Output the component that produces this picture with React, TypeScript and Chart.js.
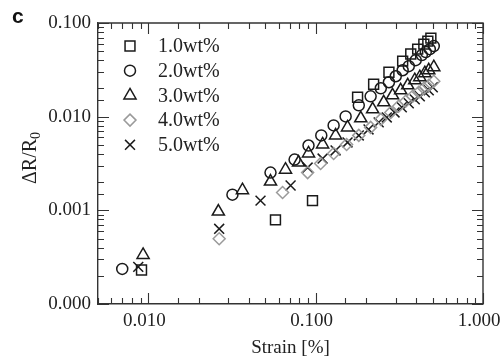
import React, { useEffect, useRef } from 'react';
import { Chart, registerables } from 'chart.js';
import { drawPoint } from 'chart.js/helpers';

Chart.register(...registerables);

const seriesLabels = ['1.0wt%', '2.0wt%', '3.0wt%', '4.0wt%', '5.0wt%'];
const pointStyles = ['rect', 'circle', 'triangle', 'rectRot', 'crossRot'];
const pointRadii = [7, 5.5, 7, 6, 7];
const seriesColors = ['#1a1a1a', '#1a1a1a', '#1a1a1a', '#9a9a9a', '#1a1a1a'];

const strain1 = [0.0091, 0.0575, 0.0957, 0.178, 0.222, 0.274, 0.331, 0.370, 0.407, 0.443, 0.468, 0.488];
const dr1 = [0.000231, 0.00079, 0.00127, 0.0161, 0.0222, 0.0298, 0.0392, 0.0466, 0.0526, 0.0595, 0.0641, 0.0690];

const strain2 = [0.00698, 0.0318, 0.0537, 0.0748, 0.0906, 0.108, 0.128, 0.151, 0.181, 0.213, 0.245, 0.274, 0.301, 0.331, 0.360, 0.396, 0.431, 0.455, 0.481, 0.508];
const dr2 = [0.000237, 0.00147, 0.00253, 0.00348, 0.00492, 0.00631, 0.00807, 0.01007, 0.0132, 0.0165, 0.0201, 0.0233, 0.0270, 0.0313, 0.0346, 0.0401, 0.0454, 0.0489, 0.0526, 0.0567];

const strain3 = [0.0093, 0.0262, 0.0365, 0.0537, 0.066, 0.079, 0.0906, 0.110, 0.1315, 0.155, 0.186, 0.219, 0.255, 0.288, 0.322, 0.355, 0.391, 0.419, 0.449, 0.474, 0.508];
const dr3 = [0.000334, 0.00097, 0.00164, 0.00203, 0.00272, 0.00324, 0.00405, 0.00505, 0.00631, 0.00768, 0.00959, 0.01197, 0.01422, 0.0169, 0.0191, 0.0216, 0.0245, 0.0264, 0.0291, 0.0313, 0.0337];

const strain4 = [0.0265, 0.0634, 0.0895, 0.107, 0.128, 0.153, 0.181, 0.213, 0.245, 0.281, 0.313, 0.345, 0.380, 0.413, 0.443, 0.474, 0.508];
const dr4 = [0.000497, 0.00155, 0.00253, 0.00316, 0.00404, 0.00505, 0.00631, 0.00768, 0.00936, 0.0111, 0.0129, 0.0146, 0.0165, 0.0182, 0.0201, 0.0216, 0.0239];

const strain5 = [0.0087, 0.0265, 0.0468, 0.0708, 0.0895, 0.110, 0.1315, 0.155, 0.181, 0.207, 0.238, 0.266, 0.296, 0.327, 0.360, 0.391, 0.419, 0.449, 0.474, 0.501];
const dr5 = [0.000249, 0.000635, 0.00127, 0.00184, 0.00286, 0.00357, 0.00436, 0.00531, 0.00631, 0.00731, 0.00869, 0.00982, 0.0111, 0.0126, 0.0139, 0.0153, 0.0165, 0.0182, 0.0191, 0.0206];

const strainSeries = [strain1, strain2, strain3, strain4, strain5];
const drSeries = [dr1, dr2, dr3, dr4, dr5];

const xMin = 0.005;
const xMax = 1.0;
const yMin = 0.0001;
const yMax = 0.1;

const panelLetter = 'c';
const xTitle = 'Strain [%]';
const yTitleMain = 'ΔR/R';
const yTitleSub = '0';

const SERIF = '"Liberation Serif", "Times New Roman", serif';
const MARK_W = 1.5;

const isDecade = (v: number) => Math.abs(Math.log10(v) - Math.round(Math.log10(v))) < 1e-6;

const framePlugin = {
  id: 'frameTicks',
  afterDraw(chart: any) {
    const { ctx, chartArea, scales } = chart;
    const { left, right, top, bottom } = chartArea;
    const xs = scales.x;
    const ys = scales.y;
    ctx.save();
    ctx.strokeStyle = '#333';
    ctx.lineWidth = 1.4;
    ctx.beginPath();
    ctx.moveTo(left, top);
    ctx.lineTo(right, top);
    ctx.lineTo(right, bottom);
    ctx.stroke();
    ctx.lineWidth = 1.1;
    ctx.beginPath();
    for (const t of xs.ticks) {
      const px = Math.round(xs.getPixelForValue(t.value)) + 0.5;
      const L = isDecade(t.value) ? 11 : 6;
      ctx.moveTo(px, bottom);
      ctx.lineTo(px, bottom - L);
      ctx.moveTo(px, top);
      ctx.lineTo(px, top + L);
    }
    for (const t of ys.ticks) {
      const py = Math.round(ys.getPixelForValue(t.value)) + 0.5;
      const L = isDecade(t.value) ? 11 : 6;
      ctx.moveTo(left, py);
      ctx.lineTo(left + L, py);
      ctx.moveTo(right, py);
      ctx.lineTo(right - L, py);
    }
    ctx.stroke();

    // panel letter
    ctx.fillStyle = '#111';
    ctx.font = 'bold 21px "Liberation Sans", Arial, sans-serif';
    ctx.textAlign = 'left';
    ctx.textBaseline = 'alphabetic';
    ctx.fillText(panelLetter, 12, 23);

    // y title with subscript
    ctx.save();
    ctx.translate(36, 184);
    ctx.rotate(-Math.PI / 2);
    ctx.fillStyle = '#222';
    ctx.font = '20px ' + SERIF;
    ctx.textAlign = 'left';
    ctx.textBaseline = 'alphabetic';
    ctx.fillText(yTitleMain, 0, 0);
    const w = ctx.measureText(yTitleMain).width;
    ctx.font = '14px ' + SERIF;
    ctx.fillText(yTitleSub, w, 4);
    ctx.restore();

    // legend
    const lx = 130;
    const tx = 158;
    const y0 = 46;
    const dy = 24.7;
    ctx.font = '20px ' + SERIF;
    ctx.textBaseline = 'middle';
    ctx.textAlign = 'left';
    seriesLabels.forEach((lab, i) => {
      const yy = y0 + i * dy;
      ctx.strokeStyle = seriesColors[i];
      ctx.fillStyle = 'rgba(0,0,0,0)';
      ctx.lineWidth = MARK_W;
      drawPoint(ctx, { pointStyle: pointStyles[i], radius: pointRadii[i], rotation: 0, borderWidth: MARK_W } as any, lx, yy);
      ctx.fillStyle = '#222';
      ctx.fillText(lab, tx, yy + 1);
    });
    ctx.restore();
  },
};

export default function App() {
  const ref = useRef<HTMLCanvasElement | null>(null);
  useEffect(() => {
    if (!ref.current) return;
    const datasets = seriesLabels.map((lab, i) => ({
      label: lab,
      data: strainSeries[i].map((v, j) => ({ x: v, y: drSeries[i][j] })),
      pointStyle: pointStyles[i],
      pointRadius: pointRadii[i],
      pointHoverRadius: pointRadii[i],
      pointBorderWidth: MARK_W,
      borderColor: seriesColors[i],
      backgroundColor: 'rgba(0,0,0,0)',
      pointBackgroundColor: 'rgba(0,0,0,0)',
      pointBorderColor: seriesColors[i],
      showLine: false,
    }));
    const chart = new Chart(ref.current, {
      type: 'scatter',
      data: { datasets },
      options: {
        animation: false,
        responsive: false,
        layout: { padding: { left: 0, right: 17, top: 23, bottom: 0 } },
        plugins: { legend: { display: false }, tooltip: { enabled: false } },
        scales: {
          x: {
            type: 'logarithmic',
            min: xMin,
            max: xMax,
            afterFit: (s: any) => {
              s.height = 56;
              s.paddingLeft = 0;
              s.paddingRight = 0;
            },
            grid: { display: false, drawTicks: false },
            border: { display: true, color: '#333', width: 1.4 },
            ticks: {
              autoSkip: false,
              maxRotation: 0,
              padding: 6,
              labelOffset: -4,
              color: '#222',
              font: { family: SERIF, size: 19 },
              callback: (v: any) => (isDecade(Number(v)) ? Number(v).toFixed(3) : ''),
            },
            title: {
              display: true,
              text: xTitle,
              color: '#222',
              font: { family: SERIF, size: 19 },
              padding: { top: 0, bottom: 1 },
            },
          },
          y: {
            type: 'logarithmic',
            min: yMin,
            max: yMax,
            afterFit: (s: any) => {
              s.width = 98;
              s.paddingTop = 0;
              s.paddingBottom = 0;
            },
            grid: { display: false, drawTicks: false },
            border: { display: true, color: '#333', width: 1.4 },
            ticks: {
              autoSkip: false,
              padding: 7,
              color: '#222',
              font: { family: SERIF, size: 19 },
              callback: (v: any) => (isDecade(Number(v)) ? Number(v).toFixed(3) : ''),
            },
          },
        },
      },
      plugins: [framePlugin],
    });
    return () => chart.destroy();
  }, []);
  return (
    <div style={{ position: 'absolute', left: 0, top: 0, width: 500, height: 360, background: '#fff' }}>
      <canvas ref={ref} width={500} height={360} />
    </div>
  );
}
